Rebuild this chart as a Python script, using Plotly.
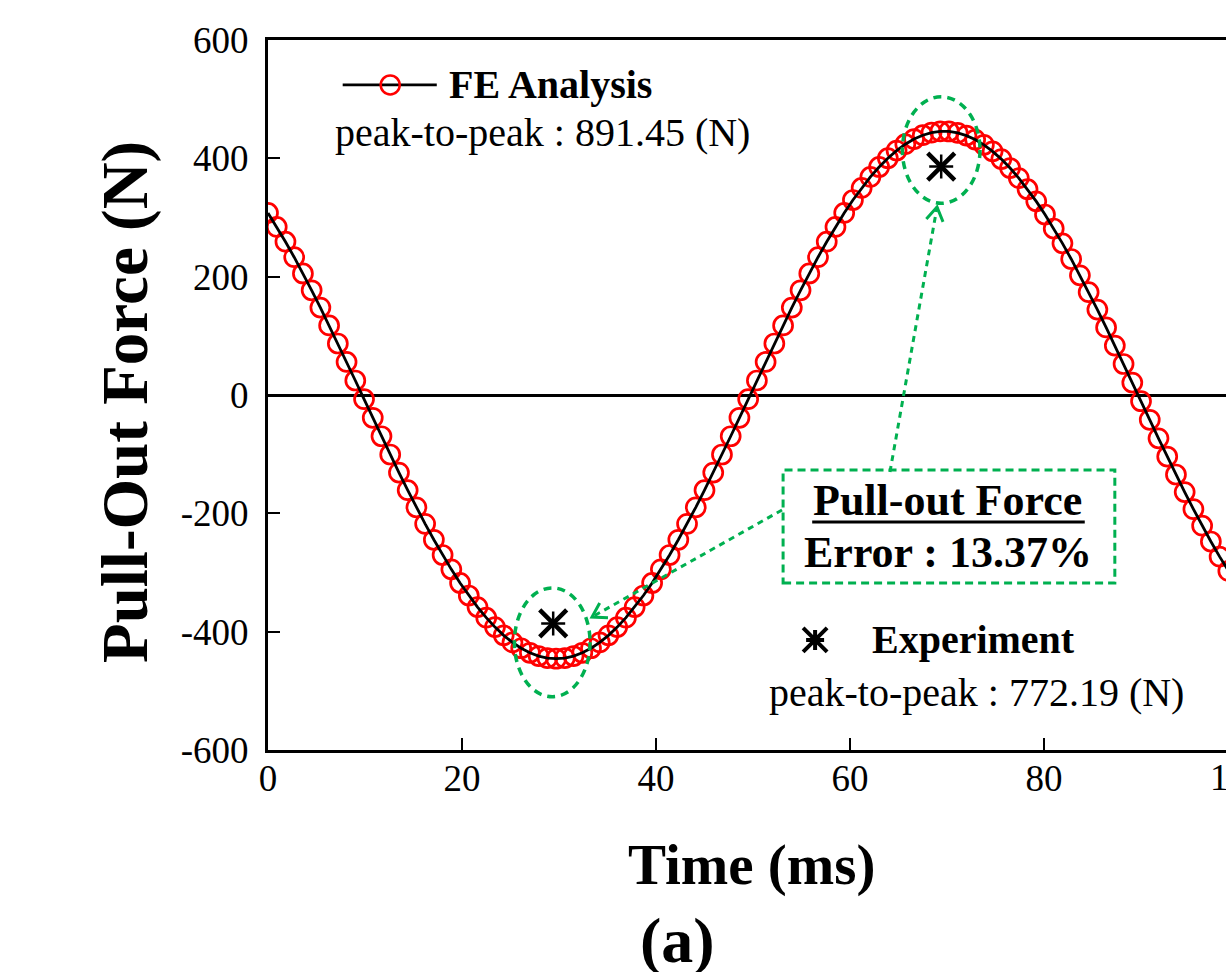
import math
import plotly.graph_objects as go

# ---------------- data ----------------
fe_time = [0.0, 0.9, 1.8, 2.7, 3.6, 4.5, 5.4, 6.3, 7.2, 8.1,
           9.0, 9.9, 10.8, 11.7, 12.6, 13.5, 14.4, 15.3, 16.2, 17.1,
           18.0, 18.9, 19.8, 20.7, 21.6, 22.5, 23.4, 24.3, 25.2, 26.1,
           27.0, 27.9, 28.8, 29.7, 30.6, 31.5, 32.4, 33.3, 34.2, 35.1,
           36.0, 36.9, 37.8, 38.7, 39.6, 40.5, 41.4, 42.3, 43.2, 44.1,
           45.0, 45.9, 46.8, 47.7, 48.6, 49.5, 50.4, 51.3, 52.2, 53.1,
           54.0, 54.9, 55.8, 56.7, 57.6, 58.5, 59.4, 60.3, 61.2, 62.1,
           63.0, 63.9, 64.8, 65.7, 66.6, 67.5, 68.4, 69.3, 70.2, 71.1,
           72.0, 72.9, 73.8, 74.7, 75.6, 76.5, 77.4, 78.3, 79.2, 80.1,
           81.0, 81.9, 82.8, 83.7, 84.6, 85.5, 86.4, 87.3, 88.2, 89.1,
           90.0, 90.9, 91.8, 92.7, 93.6, 94.5, 95.4, 96.3, 97.2, 98.1,
           99.0, 99.9]
fe_force = [307.7, 284.1, 259.1, 232.9, 205.4, 177.0, 147.7, 117.6, 87.0, 55.9,
            24.5, -7.0, -38.5, -69.7, -100.6, -131.1, -160.8, -189.8, -217.8, -244.7,
            -270.4, -294.7, -317.7, -338.9, -358.5, -376.3, -392.3, -406.2, -418.2, -428.0,
            -435.7, -441.3, -444.6, -445.7, -444.6, -441.3, -435.7, -428.0, -418.2, -406.2,
            -392.3, -376.3, -358.5, -338.9, -317.7, -294.7, -270.4, -244.7, -217.8, -189.8,
            -160.8, -131.1, -100.6, -69.7, -38.5, -7.0, 24.5, 55.9, 87.0, 117.6,
            147.7, 177.0, 205.4, 232.9, 259.1, 284.1, 307.7, 329.6, 350.0, 368.6,
            385.4, 400.2, 413.1, 423.9, 432.6, 439.1, 443.4, 445.5, 445.4, 443.0,
            438.4, 431.7, 422.8, 411.8, 398.7, 383.6, 366.6, 347.8, 327.3, 305.1,
            281.4, 256.3, 229.9, 202.3, 173.8, 144.4, 114.2, 83.5, 52.4, 21.0,
            -10.5, -41.9, -73.2, -104.0, -134.4, -164.1, -192.9, -220.8, -247.6, -273.2,
            -297.3, -320.1]

exp_time = [29.4, 69.4]
exp_force = [-386.1, 386.1]

x_tick_vals = [0, 20, 40, 60, 80]
x_tick_text = ["0", "20", "40", "60", "80"]
y_tick_vals = [-600, -400, -200, 0, 200, 400, 600]
y_tick_text = ["-600", "-400", "-200", "0", "200", "400", "600"]

fe_label = "FE Analysis"
fe_p2p = "peak-to-peak : 891.45 (N)"
exp_label = "Experiment"
exp_p2p = "peak-to-peak : 772.19 (N)"
box_line1 = "Pull-out Force"
box_line2 = "Error : 13.37%"

# ---------------- layout geometry ----------------
W, H = 1226, 972
ML, MT, MB, MR = 268, 40, 222, 0
X_RANGE = [0, 98.76]
Y_RANGE = [-600, 600]
PX_X = (W - ML - MR) / (X_RANGE[1] - X_RANGE[0])
PX_Y = (H - MT - MB) / (Y_RANGE[1] - Y_RANGE[0])

FONT = "Liberation Serif, Times New Roman, serif"
GREEN = "#00B050"

fig = go.Figure()
fig.add_trace(go.Scatter(x=fe_time, y=fe_force, mode="markers",
                         marker=dict(symbol="circle-open", size=19, color="#FF0000",
                                     line=dict(width=2.7, color="#FF0000")),
                         showlegend=False))
fig.add_trace(go.Scatter(x=fe_time, y=fe_force, mode="lines",
                         line=dict(color="black", width=2.8), showlegend=False))
fig.add_trace(go.Scatter(x=exp_time, y=exp_force, mode="markers",
                         marker=dict(symbol="x-thin-open", size=27, color="black",
                                     line=dict(width=4.5, color="black")),
                         showlegend=False))
fig.add_trace(go.Scatter(x=exp_time, y=exp_force, mode="markers",
                         marker=dict(symbol="asterisk-open", size=20, color="black",
                                     line=dict(width=2.5, color="black")),
                         showlegend=False))

shapes = []
# dashed ellipses around peaks
shapes.append(dict(type="circle", xref="x", yref="y", x0=25.4, x1=33.2, y0=-510, y1=-326,
                   line=dict(color=GREEN, width=3.5, dash="8px,6px")))
shapes.append(dict(type="circle", xref="x", yref="y", x0=65.4, x1=73.4, y0=324, y1=504,
                   line=dict(color=GREEN, width=3.5, dash="8px,6px")))
# dashed box
shapes.append(dict(type="rect", xref="x", yref="y", x0=53.1, x1=87.3, y0=-317.7, y1=-126.8,
                   line=dict(color=GREEN, width=3, dash="8px,5px")))
# underline
shapes.append(dict(type="line", xref="x", yref="y", x0=56.1, x1=84.2, y0=-214.6, y1=-214.6,
                   line=dict(color="black", width=3)))


def arrow(tail, tip):
    shapes.append(dict(type="line", xref="x", yref="y", x0=tail[0], y0=tail[1],
                       x1=tip[0], y1=tip[1], line=dict(color=GREEN, width=3, dash="6px,5px")))
    dx = (tip[0] - tail[0]) * PX_X
    dy = (tip[1] - tail[1]) * PX_Y
    n = math.hypot(dx, dy)
    ux, uy = dx / n, dy / n
    pts = []
    for ang in (math.radians(32), math.radians(-32)):
        rx = math.cos(ang) * ux - math.sin(ang) * uy
        ry = math.sin(ang) * ux + math.cos(ang) * uy
        pts.append((-16 * rx, -16 * ry))
    path = f"M {pts[0][0]:.1f} {pts[0][1]:.1f} L 0 0 L {pts[1][0]:.1f} {pts[1][1]:.1f}"
    shapes.append(dict(type="path", xref="x", yref="y", xsizemode="pixel", ysizemode="pixel",
                       xanchor=tip[0], yanchor=tip[1], path=path,
                       line=dict(color=GREEN, width=3)))


arrow((64.12, -130.0), (68.97, 317.7))
arrow((52.99, -194.4), (33.4, -375.2))

# legend glyphs
shapes.append(dict(type="line", xref="x", yref="y", x0=7.7, x1=17.4, y0=524, y1=524,
                   line=dict(color="black", width=2.8)))
shapes.append(dict(type="circle", xref="x", yref="y", xsizemode="pixel", ysizemode="pixel",
                   xanchor=12.6, yanchor=524, x0=-9.5, x1=9.5, y0=-9.5, y1=9.5,
                   line=dict(color="#FF0000", width=2.5)))
shapes.append(dict(type="path", xref="x", yref="y", xsizemode="pixel", ysizemode="pixel",
                   xanchor=56.4, yanchor=-414,
                   path="M -12 -12 L 12 12 M -12 12 L 12 -12 M 0 -10 L 0 10 M -9 0 L 9 0",
                   line=dict(color="black", width=4)))

ann = []
ann.append(dict(x=18.45, y=524, xref="x", yref="y", text=f"<b>{fe_label}</b>", showarrow=False,
                xanchor="left", yanchor="middle", font=dict(size=40, color="black", family=FONT)))
ann.append(dict(x=6.7, y=443, xref="x", yref="y", text=fe_p2p, showarrow=False,
                xanchor="left", yanchor="middle", font=dict(size=40, color="black", family=FONT)))
ann.append(dict(x=62.06, y=-414, xref="x", yref="y", text=f"<b>{exp_label}</b>", showarrow=False,
                xanchor="left", yanchor="middle", font=dict(size=40, color="black", family=FONT)))
ann.append(dict(x=51.44, y=-503.6, xref="x", yref="y", text=exp_p2p, showarrow=False,
                xanchor="left", yanchor="middle", font=dict(size=40, color="black", family=FONT)))
ann.append(dict(x=70.1, y=-177.5, xref="x", yref="y", text=f"<b>{box_line1}</b>", showarrow=False,
                xanchor="center", yanchor="middle", font=dict(size=44, color="black", family=FONT)))
ann.append(dict(x=70.1, y=-267, xref="x", yref="y", text=f"<b>{box_line2}</b>", showarrow=False,
                xanchor="center", yanchor="middle", font=dict(size=44, color="black", family=FONT)))
# axis titles and panel label
ann.append(dict(x=-0.1493, y=0.49, xref="paper", yref="paper", text="<b>Pull-Out Force (N)</b>",
                textangle=-90, showarrow=False, xanchor="center", yanchor="middle",
                font=dict(size=65, color="black", family=FONT)))
ann.append(dict(x=0.505, y=-0.162, xref="paper", yref="paper", text="<b>Time (ms)</b>",
                showarrow=False, xanchor="center", yanchor="middle",
                font=dict(size=57, color="black", family=FONT)))
ann.append(dict(x=0.427, y=-0.268, xref="paper", yref="paper", text="<b>(a)</b>",
                showarrow=False, xanchor="center", yanchor="middle",
                font=dict(size=64, color="black", family=FONT)))
# partially visible last x tick label (100), outside the visible window
ann.append(dict(x=(100 - X_RANGE[0]) * PX_X / (W - ML - MR), y=-0.0394, xref="paper", yref="paper",
                text="100", showarrow=False, xanchor="center", yanchor="middle",
                font=dict(size=37, color="black", family=FONT)))

fig.update_layout(
    width=W, height=H,
    margin=dict(l=ML, r=MR, t=MT, b=MB, pad=0),
    paper_bgcolor="white", plot_bgcolor="white",
    shapes=shapes, annotations=ann,
    font=dict(family=FONT, color="black"),
    showlegend=False,
)
fig.update_xaxes(range=X_RANGE, tickvals=x_tick_vals, ticktext=x_tick_text,
                 ticks="inside", ticklen=12, tickwidth=2, tickcolor="black",
                 showline=True, linecolor="black", linewidth=3, mirror=True,
                 showgrid=False, zeroline=False, ticklabelstandoff=-6,
                 tickfont=dict(size=37, family=FONT, color="black"))
fig.update_yaxes(range=Y_RANGE, tickvals=y_tick_vals, ticktext=y_tick_text,
                 ticks="inside", ticklen=12, tickwidth=2, tickcolor="black",
                 showline=True, linecolor="black", linewidth=3, mirror=False,
                 showgrid=False, zeroline=True, zerolinecolor="black", zerolinewidth=2.5,
                 ticklabelstandoff=9,
                 tickfont=dict(size=37, family=FONT, color="black"))

fig.write_html("out.html")
